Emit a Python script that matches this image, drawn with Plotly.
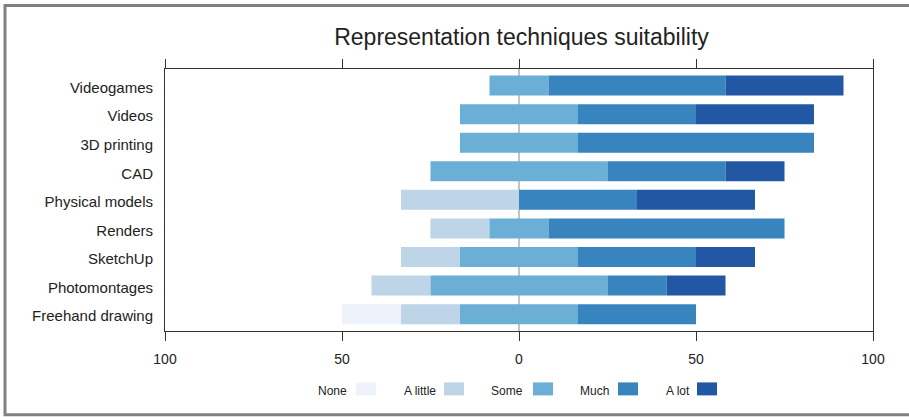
import numpy as np
import plotly.graph_objects as go

# Survey results (% of respondents), listed top to bottom
techniques = ["Videogames", "Videos", "3D printing", "CAD", "Physical models",
              "Renders", "SketchUp", "Photomontages", "Freehand drawing"]
levels = ["None", "A little", "Some", "Much", "A lot"]
none_pct     = [0, 0, 0, 0, 0, 0, 0, 0, 16.67]
a_little_pct = [0, 0, 0, 0, 33.33, 16.67, 16.67, 16.67, 16.67]
some_pct     = [16.67, 33.33, 33.33, 50, 0, 16.67, 33.33, 50, 33.33]
much_pct     = [50, 33.33, 66.67, 33.33, 33.33, 66.67, 33.33, 16.67, 33.33]
a_lot_pct    = [33.33, 33.33, 0, 16.67, 33.33, 0, 16.67, 16.67, 0]
tick_values = [-100, -50, 0, 50, 100]
tick_labels = ["100", "50", "0", "50", "100"]

colors = ["#eef2fb", "#bdd5e6", "#6baed6", "#3884bf", "#2257a3"]
series = np.array([none_pct, a_little_pct, some_pct, much_pct, a_lot_pct], dtype=float)

# Diverging layout: "Some" is centred on zero
start = -(series[0] + series[1] + series[2] / 2)
bases = start + np.vstack([np.zeros(len(techniques)), np.cumsum(series, axis=0)[:-1]])

# Plot area in pixels
W, H = 909, 417
L, R, T, B = 165, 873, 68.5, 331
pw, ph = R - L, B - T


def px(x):
    return (x - L) / pw


def py(y):
    return (B - y) / ph


fig = go.Figure()
for i, lvl in enumerate(levels):
    fig.add_trace(go.Bar(
        y=techniques, x=series[i], base=bases[i], orientation="h",
        name=lvl, marker=dict(color=colors[i], line=dict(width=0)),
        width=0.7, showlegend=False,
        hovertemplate="%{y}<br>" + lvl + ": %{x:.1f}%<extra></extra>",
    ))

font = "Liberation Sans, Arial, sans-serif"

# Legend: label followed by swatch
legend_text_right = [349, 438, 525, 611, 692]
legend_box_left = [356, 444, 533, 618, 697]
shapes = []
annotations = []
for i, lvl in enumerate(levels):
    annotations.append(dict(
        x=px(legend_text_right[i]), y=py(391.5), xref="paper", yref="paper",
        text=lvl, showarrow=False, xanchor="right", yanchor="middle",
        font=dict(family=font, size=12, color="#222222"),
    ))
    shapes.append(dict(
        type="rect", xref="paper", yref="paper",
        x0=px(legend_box_left[i]), x1=px(legend_box_left[i] + 20),
        y0=py(395.5), y1=py(382.5),
        fillcolor=colors[i], line=dict(width=0),
    ))

# Outer frame
shapes.append(dict(
    type="rect", xref="paper", yref="paper",
    x0=px(5), x1=px(915), y0=py(415), y1=py(5),
    line=dict(color="#808080", width=3), fillcolor="rgba(0,0,0,0)", layer="below",
))

fig.update_layout(
    width=W, height=H,
    margin=dict(l=L, r=W - R, t=T, b=H - B),
    paper_bgcolor="white", plot_bgcolor="white",
    barmode="overlay",
    font=dict(family=font, color="#222222"),
    title=dict(text="Representation techniques suitability", x=521.5 / W,
               xanchor="center", xref="container", yref="container",
               y=1 - 37 / H, yanchor="middle",
               font=dict(family=font, size=23, color="#222222")),
    shapes=shapes, annotations=annotations,
)
fig.update_xaxes(
    range=[-100, 100], tickvals=tick_values, ticktext=tick_labels,
    showgrid=False, zeroline=True, zerolinecolor="#c4c4c4", zerolinewidth=1.5,
    showline=True, linecolor="#333333", linewidth=1, mirror="ticks",
    ticks="outside", ticklen=9, tickcolor="#333333", tickwidth=1,
    tickfont=dict(family=font, size=14, color="#222222"), ticklabelstandoff=6,
)
fig.update_yaxes(
    range=[8.59, -0.58], showgrid=False, showline=True, linecolor="#333333",
    linewidth=1, mirror=True, ticks="",
    tickfont=dict(family=font, size=15, color="#222222"), ticklabelstandoff=8,
    ticklabelshift=-2,
)

fig.write_html("out.html")
